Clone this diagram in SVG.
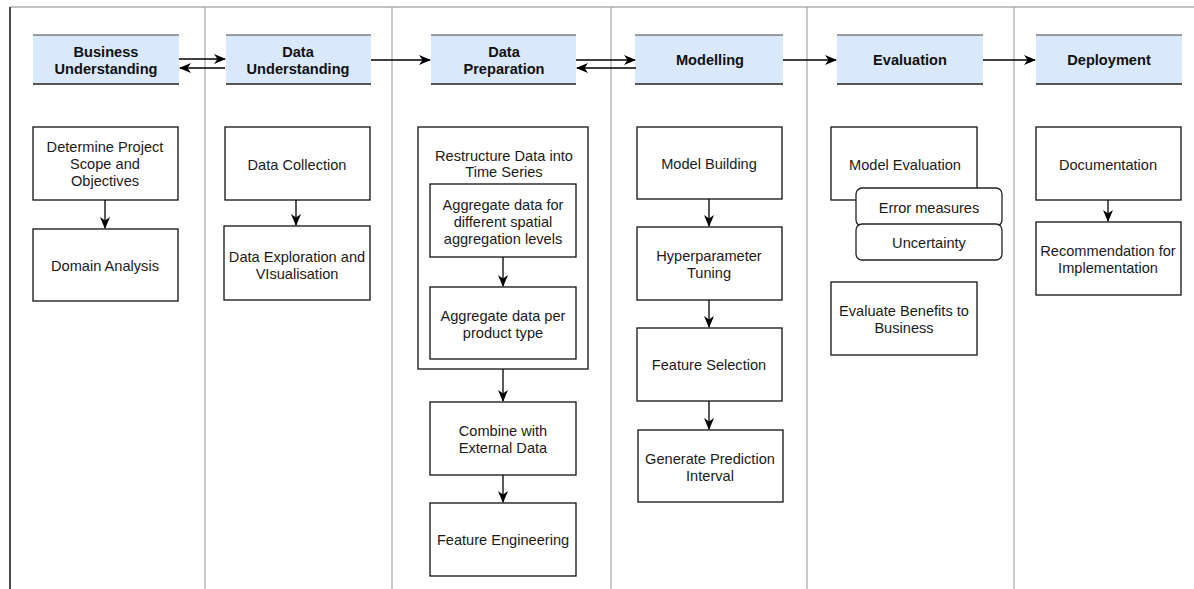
<svg xmlns="http://www.w3.org/2000/svg" width="1194" height="589" viewBox="0 0 1194 589">
<style>
text{font-family:"Liberation Sans",Arial,sans-serif;font-size:14.6px;fill:#1a1a1a;text-anchor:middle}
.h{font-weight:bold;fill:#111}
.hb{fill:#dae8fc}
.ht{stroke:#444;stroke-width:1.2}
.hbt{stroke:#555;stroke-width:2.2}
.box{fill:#fff;stroke:#111;stroke-width:1.3}
.rbox{fill:#fff;stroke:#222;stroke-width:1.3}
.lane{stroke:#999;stroke-width:1}
.c{stroke:#000;stroke-width:1.3;fill:none;marker-end:url(#a)}
</style>
<defs>
<marker id="a" markerUnits="userSpaceOnUse" markerWidth="13" markerHeight="11" refX="11" refY="5.5" orient="auto" viewBox="0 0 13 11">
<path d="M0,0.5 L12,5.5 L0,10.5 L3.5,5.5 z" fill="#000"/>
</marker>
</defs>
<rect width="1194" height="589" fill="#fff"/>
<g id="lanes">
<line x1="10" y1="7" x2="1194" y2="7" stroke="#888" stroke-width="1.2"/>
<line x1="10" y1="7" x2="10" y2="589" stroke="#222" stroke-width="1.6"/>
<line class="lane" x1="205" y1="7" x2="205" y2="589"/>
<line class="lane" x1="392" y1="7" x2="392" y2="589"/>
<line class="lane" x1="611" y1="7" x2="611" y2="589"/>
<line class="lane" x1="807" y1="7" x2="807" y2="589"/>
<line class="lane" x1="1014" y1="7" x2="1014" y2="589"/>
</g>
<g id="h-bu"><rect class="hb" x="33" y="35" width="146" height="50"/><line class="ht" x1="33" y1="35" x2="179" y2="35"/><line class="hbt" x1="33" y1="84" x2="179" y2="84"/><text class="h" x="106" y="57">Business</text><text class="h" x="106" y="74">Understanding</text></g>
<g id="h-du"><rect class="hb" x="226" y="35" width="145" height="50"/><line class="ht" x1="226" y1="35" x2="371" y2="35"/><line class="hbt" x1="226" y1="84" x2="371" y2="84"/><text class="h" x="298" y="57">Data</text><text class="h" x="298" y="74">Understanding</text></g>
<g id="h-dp"><rect class="hb" x="431" y="35" width="145" height="50"/><line class="ht" x1="431" y1="35" x2="576" y2="35"/><line class="hbt" x1="431" y1="84" x2="576" y2="84"/><text class="h" x="504" y="57">Data</text><text class="h" x="504" y="74">Preparation</text></g>
<g id="h-mod"><rect class="hb" x="635" y="35" width="148" height="50"/><line class="ht" x1="635" y1="35" x2="783" y2="35"/><line class="hbt" x1="635" y1="84" x2="783" y2="84"/><text class="h" x="710" y="65">Modelling</text></g>
<g id="h-eval"><rect class="hb" x="837" y="35" width="146" height="50"/><line class="ht" x1="837" y1="35" x2="983" y2="35"/><line class="hbt" x1="837" y1="84" x2="983" y2="84"/><text class="h" x="910" y="65">Evaluation</text></g>
<g id="h-dep"><rect class="hb" x="1036" y="35" width="146" height="50"/><line class="ht" x1="1036" y1="35" x2="1182" y2="35"/><line class="hbt" x1="1036" y1="84" x2="1182" y2="84"/><text class="h" x="1109" y="65">Deployment</text></g>

<g id="n-scope"><rect class="box" x="33" y="127" width="145" height="73"/><text x="105" y="152">Determine Project</text><text x="105" y="169">Scope and</text><text x="105" y="186">Objectives</text></g>
<g id="n-domain"><rect class="box" x="33" y="229" width="145" height="72"/><text x="105" y="271">Domain Analysis</text></g>
<g id="n-collect"><rect class="box" x="225" y="127" width="145" height="73"/><text x="297" y="170">Data Collection</text></g>
<g id="n-explore"><rect class="box" x="224" y="226" width="146" height="74"/><text x="297" y="262">Data Exploration and</text><text x="297" y="279">VIsualisation</text></g>
<g id="n-restructure"><rect class="box" x="418" y="127" width="170" height="242"/><text x="504" y="161">Restructure Data into</text><text x="504" y="177">Time Series</text></g>
<g id="n-spatial"><rect class="box" x="430" y="184" width="146" height="73"/><text x="503" y="210">Aggregate data for</text><text x="503" y="227">different spatial</text><text x="503" y="244">aggregation levels</text></g>
<g id="n-product"><rect class="box" x="430" y="287" width="146" height="72"/><text x="503" y="321">Aggregate data per</text><text x="503" y="338">product type</text></g>
<g id="n-combine"><rect class="box" x="430" y="402" width="146" height="73"/><text x="503" y="436">Combine with</text><text x="503" y="453">External Data</text></g>
<g id="n-feateng"><rect class="box" x="430" y="503" width="146" height="73"/><text x="503" y="545">Feature Engineering</text></g>
<g id="n-build"><rect class="box" x="637" y="127" width="145" height="72"/><text x="709" y="169">Model Building</text></g>
<g id="n-hyper"><rect class="box" x="637" y="227" width="145" height="73"/><text x="709" y="261">Hyperparameter</text><text x="709" y="278">Tuning</text></g>
<g id="n-featsel"><rect class="box" x="637" y="328" width="145" height="73"/><text x="709" y="370">Feature Selection</text></g>
<g id="n-interval"><rect class="box" x="638" y="430" width="145" height="72"/><text x="710" y="464">Generate Prediction</text><text x="710" y="481">Interval</text></g>
<g id="n-modeleval"><rect class="box" x="831" y="127" width="146" height="73"/><text x="905" y="170">Model Evaluation</text></g>
<g id="n-error"><rect class="rbox" x="856" y="188" width="146" height="38" rx="6"/><text x="929" y="213">Error measures</text></g>
<g id="n-uncert"><rect class="rbox" x="856" y="224" width="146" height="36" rx="6"/><text x="929" y="248">Uncertainty</text></g>
<g id="n-benefits"><rect class="box" x="831" y="282" width="146" height="73"/><text x="904" y="316">Evaluate Benefits to</text><text x="904" y="333">Business</text></g>
<g id="n-doc"><rect class="box" x="1036" y="127" width="145" height="73"/><text x="1108" y="170">Documentation</text></g>
<g id="n-recom"><rect class="box" x="1036" y="222" width="145" height="73"/><text x="1108" y="256">Recommendation for</text><text x="1108" y="273">Implementation</text></g>

<g id="connectors">
<line class="c" x1="179" y1="59" x2="225" y2="59"/>
<line class="c" x1="225" y1="68" x2="180" y2="68"/>
<line class="c" x1="371" y1="60" x2="430" y2="60"/>
<line class="c" x1="576" y1="60" x2="635" y2="60"/>
<line class="c" x1="636" y1="68" x2="577" y2="68"/>
<line class="c" x1="783" y1="60" x2="836" y2="60"/>
<line class="c" x1="983" y1="60" x2="1035" y2="60"/>
<line class="c" x1="105" y1="200" x2="105" y2="228"/>
<line class="c" x1="296" y1="200" x2="296" y2="225"/>
<line class="c" x1="503" y1="257" x2="503" y2="286"/>
<line class="c" x1="503" y1="369" x2="503" y2="401"/>
<line class="c" x1="503" y1="475" x2="503" y2="502"/>
<line class="c" x1="709" y1="199" x2="709" y2="226"/>
<line class="c" x1="709" y1="300" x2="709" y2="327"/>
<line class="c" x1="709" y1="401" x2="709" y2="429"/>
<line class="c" x1="1108" y1="200" x2="1108" y2="221"/>
</g>
</svg>
